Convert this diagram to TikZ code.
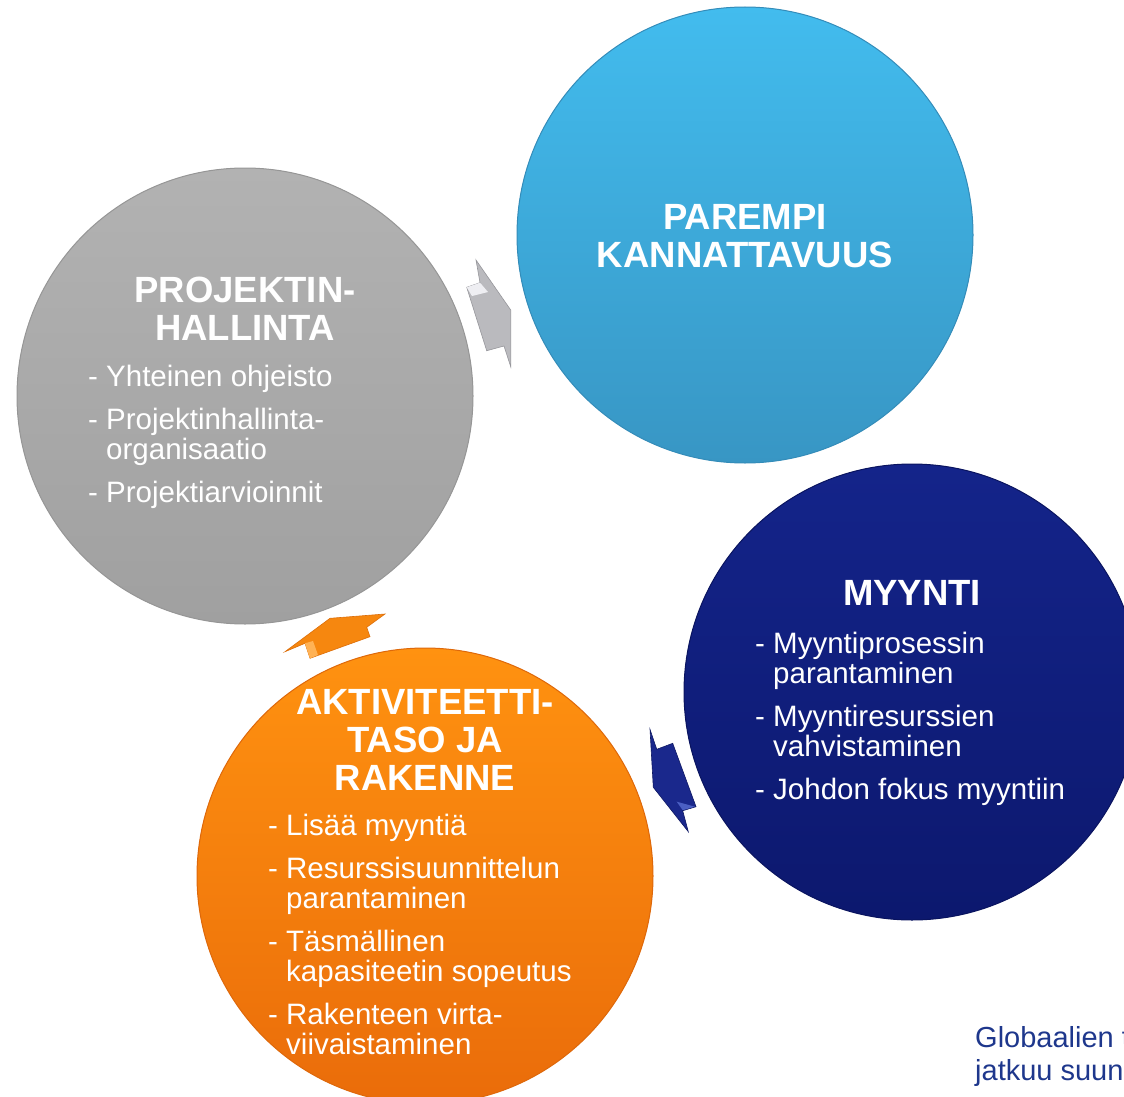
\documentclass[tikz,border=0pt]{standalone}
\usepackage{fontspec}
\setmainfont{Liberation Sans}
\definecolor{grayTop}{RGB}{178,178,178}
\definecolor{grayBot}{RGB}{160,160,160}
\definecolor{grayRim}{RGB}{150,150,150}
\definecolor{blueTop}{RGB}{66,188,238}
\definecolor{blueBot}{RGB}{56,150,196}
\definecolor{blueRim}{RGB}{52,140,185}
\definecolor{navyTop}{RGB}{20,36,138}
\definecolor{navyBot}{RGB}{12,24,110}
\definecolor{navyRim}{RGB}{10,20,95}
\definecolor{orangeTop}{RGB}{255,146,16}
\definecolor{orangeBot}{RGB}{234,108,10}
\definecolor{orangeRim}{RGB}{222,104,10}
\definecolor{grayArrow}{RGB}{186,186,190}
\definecolor{grayArrowRim}{RGB}{150,150,155}
\definecolor{grayFacet}{RGB}{238,238,242}
\definecolor{orangeArrow}{RGB}{246,135,15}
\definecolor{orangeArrowRim}{RGB}{220,110,10}
\definecolor{orangeFacet}{RGB}{255,178,85}
\definecolor{navyArrow}{RGB}{26,40,140}
\definecolor{navyArrowRim}{RGB}{15,25,100}
\definecolor{navyFacet}{RGB}{75,95,195}
\definecolor{noteText}{RGB}{30,55,140}
\begin{document}
\begin{tikzpicture}[x=1pt, y=-1pt,
		bubble/.style={circle, minimum size=456pt, inner sep=0pt, line width=1pt},
		headline/.style={align=center, text=white, inner sep=0pt, font=\bfseries\fontsize{36.5}{38}\selectfont},
		bullets/.style={align=left, text=white, inner sep=0pt, anchor=north west, font=\fontsize{29.5}{30}\selectfont}]
	\useasboundingbox (0,0) rectangle (1124,1097);
	% circles
	\node[bubble, top color=grayTop, bottom color=grayBot, draw=grayRim] (hallinta) at (245,396) {};
	\node[bubble, top color=blueTop, bottom color=blueBot, draw=blueRim] (kannattavuus) at (745,235) {};
	\node[bubble, top color=navyTop, bottom color=navyBot, draw=navyRim] (myynti) at (912,692) {};
	\node[bubble, top color=orangeTop, bottom color=orangeBot, draw=orangeRim] (aktiviteetti) at (425,876) {};
	% arrows between the circles
	\filldraw[fill=grayArrow, draw=grayArrowRim, line width=0.6pt]
		(476,260) -- (510.7,310) -- (510.7,366.7) -- (504,346) -- (486.7,350.7) -- (466.7,287.3) -- (480,282.7) -- cycle;
	\fill[grayFacet] (466.7,287.3) -- (480,282.7) -- (488,292) -- (472,296) -- cycle;
	\filldraw[fill=orangeArrow, draw=orangeArrowRim, line width=0.6pt]
		(285,651.7) -- (330,618.3) -- (385,614) -- (366.7,627.3) -- (370,636.7) -- (310,658.3) -- (305,643.3) -- cycle;
	\fill[orangeFacet] (305,643.3) -- (310,658.3) -- (318,655) -- (313,641) -- cycle;
	\filldraw[fill=navyArrow, draw=navyArrowRim, line width=0.6pt]
		(650,729.3) -- (656.7,749.3) -- (672.7,743.3) -- (696,806.7) -- (682.7,810.7) -- (688.3,831.7) -- (653.3,787.3) -- cycle;
	\fill[navyFacet] (676.7,801.7) -- (695,806.7) -- (682.7,810.2) -- cycle;
	% texts
	\node[headline] (hallintaTitle) at (245,309) {PROJEKTIN-\\HALLINTA};
	\node[bullets] (hallintaList) at (88,365) {- Yhteinen ohjeisto\\[13pt]
		- Projektinhallinta-\\\phantom{- }organisaatio\\[13pt]
		- Projektiarvioinnit};
	\node[headline] (kannattavuusTitle) at (745,236) {PAREMPI\\KANNATTAVUUS};
	\node[headline] (myyntiTitle) at (912,593) {MYYNTI};
	\node[bullets] (myyntiList) at (755,632) {- Myyntiprosessin\\\phantom{- }parantaminen\\[13pt]
		- Myyntiresurssien\\\phantom{- }vahvistaminen\\[13pt]
		- Johdon fokus myyntiin};
	\node[headline] (aktiviteettiTitle) at (425,740) {AKTIVITEETTI-\\TASO JA\\RAKENNE};
	\node[bullets] (aktiviteettiList) at (268,814) {- Lis\"a\"a myynti\"a\\[13pt]
		- Resurssisuunnittelun\\\phantom{- }parantaminen\\[13pt]
		- T\"asm\"allinen\\\phantom{- }kapasiteetin sopeutus\\[13pt]
		- Rakenteen virta-\\\phantom{- }viivaistaminen};
	\node[anchor=north west, align=left, inner sep=0pt, text=noteText, font=\fontsize{29}{33}\selectfont] (note) at (975,1026) {Globaalien t\\jatkuu suun};
\end{tikzpicture}
\end{document}
